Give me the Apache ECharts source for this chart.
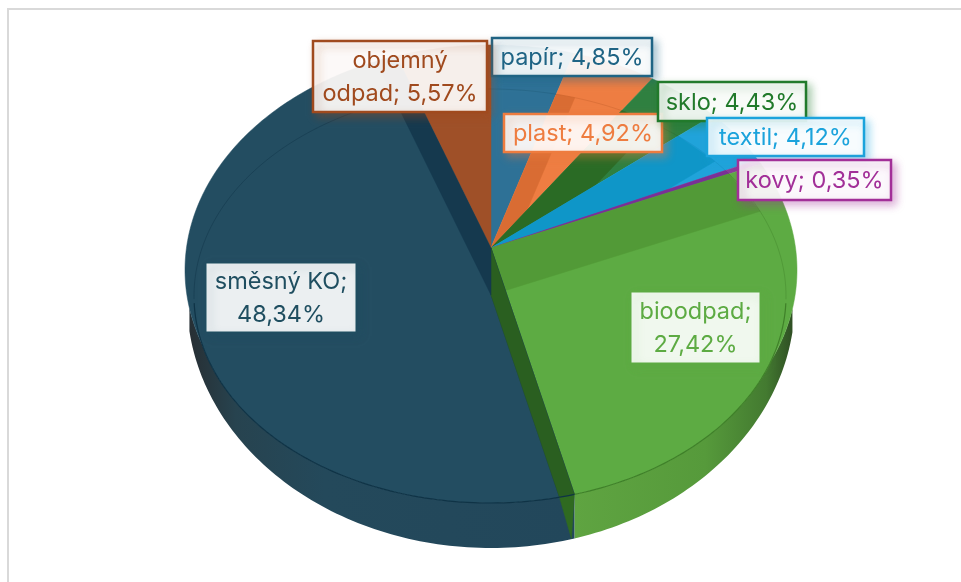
<!DOCTYPE html>
<html><head><meta charset="utf-8">
<style>html,body{margin:0;padding:0;background:#fff}#c{width:961px;height:582px}</style>
<script src="https://cdn.jsdelivr.net/npm/echarts@6/dist/echarts.min.js"></script>
</head><body><div id="c"></div>
<script>
// data, clockwise from 12 o'clock
const categories = ['papír','plast','sklo','textil','kovy','bioodpad','směsný KO','objemný odpad'];
const shares = [4.85,4.92,4.43,4.12,0.35,27.42,48.34,5.57];

// styles
const faceColors = ['#2e7196','#ee7d42','#2f8040','#20a3da','#8a3b9b','#5dab43','#234d61','#9f5028'];
const bandColors = ['#2a6a8c','#d96c33','#2a6b25','#0f96c8','#7a3096','#529a37','#15394e','#9f5028'];
const rimColors  = ['#1f5a78','#c45e2a','#24682f','#1488b8','#6a2a80','#3f8029','#0f3346','#7f3f1e'];
const labelColors= ['#1f6485','#ee7c3f','#217a2b','#1ba3dc','#a22f98','#5dab43','#1f4e60','#a04a1e'];
// label boxes: left, top, right, bottom, where the line breaks
const labelBoxes = [
  [491,37,653,77,''],[503,113,663,153,''],[657,81,807,122,''],[706,117,865,157,''],
  [737,159,892,201,''],[630,291,761,364,'value'],[205,262,357,333,'value'],[312,40,488,113,'name']
];
// projection
const apex = [491,248], apex2 = [491,295], tilt = 1.35;
const silhouette = {cx:491,cy:270,rx:306,ry:225};
const rim = {cx:490,cy:296,rx:296,ry:207};
const base = {cx:491,cy:300,rx:304,ry:248};

const total = shares.reduce((a,b)=>a+b,0);
const starts = []; let acc = 0;
shares.forEach(v=>{starts.push(acc/total*360); acc+=v;});
const dir = deg => { const a=deg*Math.PI/180; return [Math.sin(a)*tilt,-Math.cos(a)]; };
function hit(el,o,d){
  const ux=(o[0]-el.cx)/el.rx, uy=(o[1]-el.cy)/el.ry, vx=d[0]/el.rx, vy=d[1]/el.ry;
  const A=vx*vx+vy*vy,B=2*(ux*vx+uy*vy),C=ux*ux+uy*uy-1;
  return (-B+Math.sqrt(B*B-4*A*C))/(2*A);
}
const at=(o,d,t)=>[o[0]+d[0]*t,o[1]+d[1]*t];
const outer=deg=>{const d=dir(deg);return at(apex,d,Math.max(hit(silhouette,apex,d),hit(rim,apex,d)));};
const onRim=(o,deg)=>{const d=dir(deg);return at(o,d,hit(rim,o,d));};
const baseY=(p)=>{const k=(p[0]-base.cx)/base.rx;const s=Math.abs(k)>=1?0:Math.sqrt(1-k*k);return Math.max(p[1],base.cy+base.ry*s);};
function range(a,b){const r=[];for(let t=a;t<b;t+=1)r.push(t);r.push(b);return r;}

function poly(points,fill,z2,stroke,lw){
  return {type:'polygon',z2,shape:{points},style:{fill,stroke:stroke||fill,lineWidth:lw==null?0.5:lw}};
}
function renderItem(params,api){
  const i=api.value(0), share=api.value(1);
  const a=starts[i], b=a+share/total*360, kids=[];
  // wall: only the arc below the widest points of the pie
  if(b>100 && a<300){
    let top=range(a,b).map(outer);
    const xs=top.map(p=>p[0]);
    if(a<90) top=top.slice(xs.indexOf(Math.max(...xs)));
    if(b>260) top=top.slice(0,xs.indexOf(Math.min(...xs))+1);
    top=top.filter(p=>Math.abs(p[0]-base.cx)<base.rx-2);
    const bottom=top.map(p=>[p[0],baseY(p)]).reverse();
    const stops = i===5
      ? [{offset:0,color:'#5fa441'},{offset:0.6,color:'#569a3b'},{offset:0.88,color:'#437a30'},{offset:1,color:'#2f4f24'}]
      : [{offset:0,color:'#272f34'},{offset:0.12,color:'#27434f'},{offset:0.35,color:'#24495b'},{offset:1,color:'#22475b'}];
    kids.push(poly(top.concat(bottom),{type:'linear',x:0,y:0,x2:1,y2:0,colorStops:stops},1,'rgba(0,0,0,0)',0));
  }
  // top face
  const pts=[apex].concat(range(a,b).map(outer));
  kids.push(poly(pts,faceColors[i],10+2*i));
  // cut faces
  if(a>0 && a<180){
    kids.push(poly([apex,onRim(apex,a),onRim(apex2,a),apex2],bandColors[i],11+2*i));
  }
  if(i===5){
    const p=onRim(apex,b), q=onRim(apex2,b);
    kids.push(poly([apex,p,q,apex2],'#2a5f20',40));
    kids.push(poly([q,p,[p[0]-3,baseY(p)]],'#2f6a20',40));
  }
  if(i===6){
    kids.push(poly([apex,onRim(apex,b),onRim(apex2,b),apex2],bandColors[i],41));
    const d=dir(b);
    kids.push(poly([onRim(apex,b),outer(b),at(apex2,d,hit(silhouette,apex2,d)),onRim(apex2,b)],bandColors[i],41));
  }
  // rim line: crisp at the front, faint at the back
  const rimPts=range(a,b).map(t=>onRim(apex,t));
  const front=rimPts.filter(p=>p[1]>=300), back=rimPts.filter(p=>p[1]<=300);
  if(front.length>1) kids.push({type:'polyline',z2:42,shape:{points:front},style:{fill:'none',stroke:rimColors[i],lineWidth:1.2}});
  if(i===6){
    kids.push({type:'polyline',z2:42,shape:{points:back.filter(p=>p[0]<400)},style:{fill:'none',stroke:rimColors[i],lineWidth:1,opacity:0.45}});
  } else if(back.length>1) kids.push({type:'polyline',z2:30,shape:{points:back},style:{fill:'none',stroke:rimColors[i],lineWidth:1,opacity:0.4}});
  // label
  const box=labelBoxes[i], col=labelColors[i];
  const val=share.toFixed(2).replace('.',',')+'%';
  const name=box[4]==='name'?categories[i].replace(' ','\n'):categories[i];
  const text=name+';'+(box[4]==='value'?'\n':' ')+val;
  kids.push({type:'rect',z2:60+i,shape:{x:box[0]+1,y:box[1]+1,width:box[2]-box[0]-2,height:box[3]-box[1]-2},
    style:{fill:'rgba(255,255,255,0.91)',stroke:col,lineWidth:i===5||i===6?1:2.5,shadowColor:col+'66',shadowBlur:8,shadowOffsetX:4,shadowOffsetY:4}});
  kids.push({type:'text',z2:70+i,style:{x:(box[0]+box[2])/2,y:(box[1]+box[3])/2+1,text,align:'center',verticalAlign:'middle',
    fill:col,font:'400 23.5px Inter',lineHeight:33}});
  return {type:'group',children:kids};
}
const chart=echarts.init(document.getElementById('c'),null,{renderer:'canvas'});
chart.setOption({
  animation:false,
  graphic:[{type:'rect',shape:{x:8,y:9,width:1200,height:1200},style:{fill:'none',stroke:'#d9d9d9',lineWidth:2},silent:true}],
  series:[{type:'custom',coordinateSystem:'none',silent:true,renderItem,
    data:categories.map((c,i)=>({name:c,value:[i,shares[i]]}))}]
});
</script></body></html>
